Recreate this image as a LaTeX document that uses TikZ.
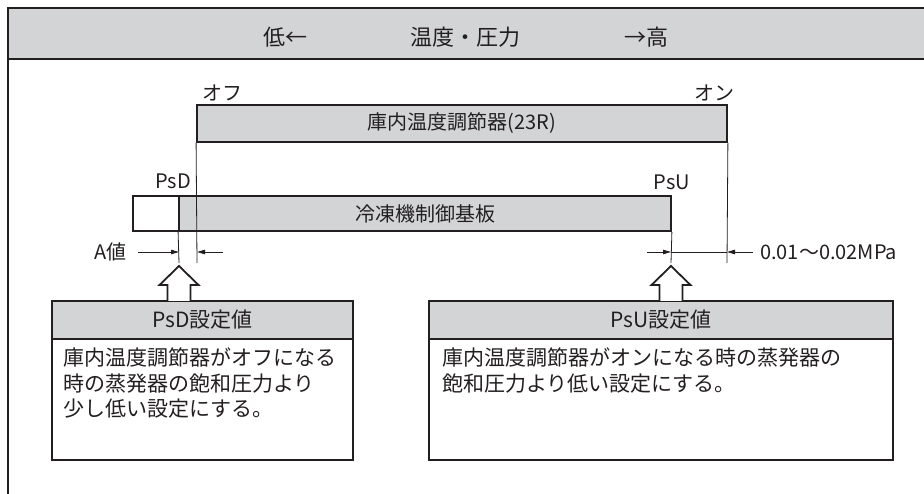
\documentclass[tikz,border=0pt]{standalone}
\usepackage{fontspec}
\setmainfont{Noto Sans CJK JP}
\usetikzlibrary{arrows.meta}
\definecolor{fillgray}{HTML}{D3D4D6}
\definecolor{ink}{HTML}{231F20}
\begin{document}
\begin{tikzpicture}[x=1pt,y=-1pt,
  thickline/.style={draw=ink,line width=1.8pt},
  thinline/.style={draw=ink,line width=0.8pt},
  dimarrow/.style={thinline,-{Triangle[length=8pt,width=4.5pt]}},
  graybox/.style={thickline,fill=fillgray,inner sep=0pt,text=ink,font=\fontsize{20}{24}\selectfont},
  whitebox/.style={thickline,fill=white,inner sep=0pt},
  lbl/.style={inner sep=0pt,text=ink,font=\fontsize{20}{24}\selectfont},
  hdr/.style={inner sep=0pt,text=ink,font=\fontsize{22}{26}\selectfont},
  body/.style={inner sep=0pt,text=ink,align=left,anchor=north west,font=\fontsize{21}{25.5}\selectfont},
  hollow/.style={thickline,fill=white,line join=miter}
]
\useasboundingbox (0,0) rectangle (924,494);
% frame and header band
\fill[fillgray] (8,8) rectangle (930,59);
\draw[thickline] (8,500) -- (8,8) -- (930,8);
\draw[thickline] (8,59) -- (930,59);
\node[hdr] (low) at (285,37) {低←};
\node[hdr] (mid) at (465,37) {温度・圧力};
\node[hdr] (high) at (646,37) {→高};

% thermostat bar
\node[graybox,minimum width=530pt,minimum height=37pt] (r23) at (462,123.5) {庫内温度調節器(23R)};
\node[lbl] (off) at (222,93) {オフ};
\node[lbl] (on) at (714,93) {オン};

% control board bar
\node[whitebox,minimum width=46pt,minimum height=35pt] (boardw) at (156,213.5) {};
\node[graybox,minimum width=492pt,minimum height=35pt] (board) at (425,213.5) {冷凍機制御基板};
\node[lbl] (psd) at (173,181) {PsD};
\node[lbl] (psu) at (672,182) {PsU};

% vertical reference lines
\coordinate (offend) at (197,263);
\coordinate (onend) at (727,263);
\coordinate (psdend) at (179,263);
\coordinate (psuend) at (671,263);
\draw[thinline] (r23.south west) -- (offend);
\draw[thinline] (r23.south east) -- (onend);
\draw[thinline] (board.south west) -- (psdend);
\draw[thinline] (board.south east) -- (psuend);

% dimension arrows
\coordinate (aL) at (138,252);
\coordinate (aLt) at (179,252);
\coordinate (aR) at (223,252);
\coordinate (aRt) at (197,252);
\draw[dimarrow] (aL) -- (aLt);
\draw[dimarrow] (aR) -- (aRt);
\node[lbl,anchor=east] (aval) at (127,252) {A値};

\coordinate (bL) at (647,252);
\coordinate (bLt) at (671,252);
\coordinate (bR) at (753,252);
\coordinate (bRt) at (727,252);
\draw[dimarrow] (bL) -- (bLt);
\draw[thinline] (bLt) -- (bRt);
\draw[dimarrow] (bR) -- (bRt);
\node[lbl,anchor=west] (mpa) at (760,252) {0.01～0.02MPa};

% setting boxes
\node[graybox,minimum width=301pt,minimum height=38pt,font=\fontsize{21}{25}\selectfont] (ttlD) at (202.5,320) {PsD設定値};
\node[whitebox,minimum width=301pt,minimum height=121pt] (bodyD) at (202.5,399.5) {};
\node[body] (txtD) at (63,348) {庫内温度調節器がオフになる\\時の蒸発器の飽和圧力より\\少し低い設定にする。};

\node[graybox,minimum width=464pt,minimum height=38pt,font=\fontsize{21}{25}\selectfont] (ttlU) at (661,320) {PsU設定値};
\node[whitebox,minimum width=464pt,minimum height=121pt] (bodyU) at (661,399.5) {};
\node[body] (txtU) at (442,348) {庫内温度調節器がオンになる時の蒸発器の\\飽和圧力より低い設定にする。};

% hollow arrows
\draw[hollow] (167.5,301) -- (167.5,285) -- (159.5,285) -- (179,266) -- (198.5,285) -- (190.5,285) -- (190.5,301);
\draw[hollow] (659.5,301) -- (659.5,285) -- (651.5,285) -- (671,266) -- (690.5,285) -- (682.5,285) -- (682.5,301);
\end{tikzpicture}
\end{document}
